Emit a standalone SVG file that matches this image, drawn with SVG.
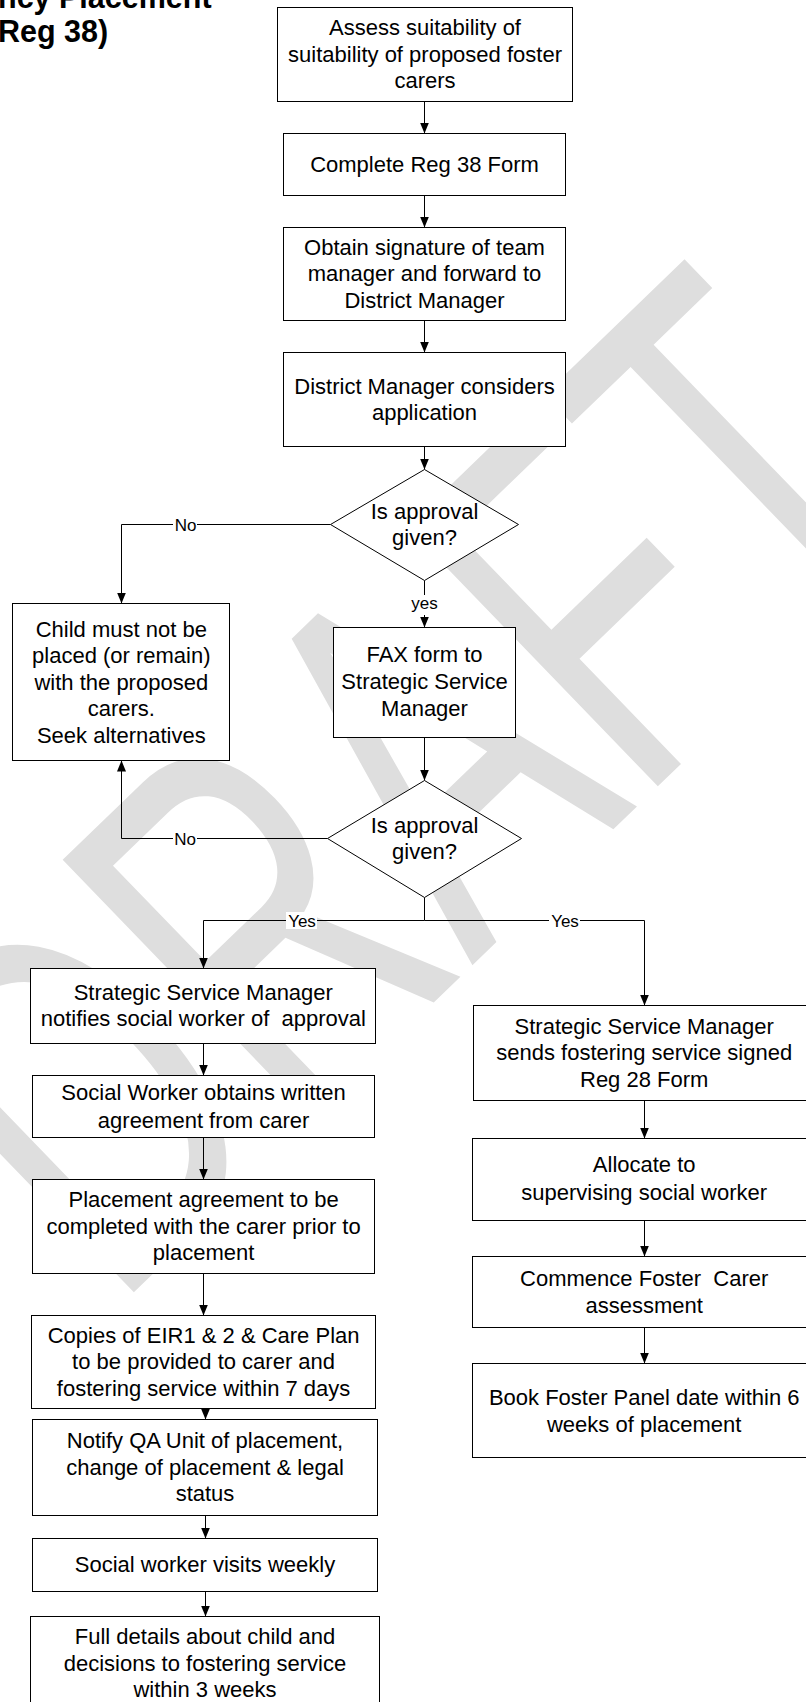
<svg xmlns="http://www.w3.org/2000/svg" width="806" height="1702" viewBox="0 0 806 1702">
<style>
.wm{fill:#dedede;font-family:"Liberation Sans",Arial,sans-serif;font-kerning:none}
.title{font-family:"Liberation Sans",Arial,sans-serif;font-weight:bold;font-size:30.5px;fill:#000}
.box{fill:#fff;stroke:#000;stroke-width:1}
.t{font-family:"Liberation Sans",Arial,sans-serif;font-size:22px;fill:#000;text-anchor:middle;white-space:pre}
.conn{fill:none;stroke:#000;stroke-width:1}
.arr{marker-end:url(#ah)}
.lbg{fill:#fff}
.lbl{font-family:"Liberation Sans",Arial,sans-serif;font-size:17px;fill:#000;text-anchor:middle}
</style>
<defs>
<marker id="ah" viewBox="0 0 11 9" refX="11" refY="4.5" markerWidth="11" markerHeight="9" markerUnits="userSpaceOnUse" orient="auto">
<path d="M0,0 L11,4.5 L0,9 z" fill="#000"/>
</marker>
</defs>
<g id="watermark">
<text class="wm" font-size="1000" transform="translate(113.5,1311.9) rotate(-44) scale(0.345,0.524)">DRAFT</text>
</g>
<g id="title">
<text class="title" x="-2" y="8">ncy Placement</text>
<text class="title" x="-2" y="42">Reg 38)</text>
</g>
<g id="connectors">
<path class="conn arr" d="M424.5,101.5 V133.5"/>
<path class="conn arr" d="M424.5,195.5 V227.5"/>
<path class="conn arr" d="M424.5,320.5 V352.5"/>
<path class="conn arr" d="M424.5,446.5 V469.5"/>
<path class="conn arr" d="M424.5,580.5 V627.5"/>
<path class="conn arr" d="M424.5,737.5 V780.5"/>
<path class="conn arr" d="M330.5,524.5 H121.5 V603.5"/>
<path class="conn arr" d="M327.5,838.5 H121.5 V760.5"/>
<path class="conn" d="M424.5,897.5 V920.5"/>
<path class="conn arr" d="M424.5,920.5 H203.5 V968.5"/>
<path class="conn arr" d="M424.5,920.5 H644.5 V1005.5"/>
<path class="conn arr" d="M203.5,1043.5 V1075.5"/>
<path class="conn arr" d="M203.5,1137.5 V1179.5"/>
<path class="conn arr" d="M203.5,1273.5 V1315.5"/>
<path class="conn arr" d="M205.5,1408.5 V1419.5"/>
<path class="conn arr" d="M205.5,1515.5 V1538.5"/>
<path class="conn arr" d="M205.5,1591.5 V1616.5"/>
<path class="conn arr" d="M644.5,1100.5 V1138.5"/>
<path class="conn arr" d="M644.5,1220.5 V1256.5"/>
<path class="conn arr" d="M644.5,1327.5 V1363.5"/>
<rect class="lbg" x="173" y="516" width="24" height="18"/>
<text class="lbl" x="185.5" y="530.5">No</text>
<rect class="lbg" x="411" y="595" width="27" height="20"/>
<text class="lbl" x="424.5" y="609">yes</text>
<rect class="lbg" x="173" y="831" width="24" height="18"/>
<text class="lbl" x="185" y="844.5">No</text>
<rect class="lbg" x="286" y="912" width="31" height="17"/>
<text class="lbl" x="302" y="927">Yes</text>
<rect class="lbg" x="549" y="912" width="31" height="17"/>
<text class="lbl" x="565" y="927">Yes</text>
</g>
<g id="n1"><rect class="box" x="277.5" y="7.5" width="295" height="94"/>
<text class="t" x="425" y="35.2">Assess suitability of</text>
<text class="t" x="425" y="61.6">suitability of proposed foster</text>
<text class="t" x="425" y="88">carers</text></g>
<g id="n2"><rect class="box" x="283.5" y="133.5" width="282" height="62"/>
<text class="t" x="424.5" y="172">Complete Reg 38 Form</text></g>
<g id="n3"><rect class="box" x="283.5" y="227.5" width="282" height="93"/>
<text class="t" x="424.5" y="254.5">Obtain signature of team</text>
<text class="t" x="424.5" y="281">manager and forward to</text>
<text class="t" x="424.5" y="307.5">District Manager</text></g>
<g id="n4"><rect class="box" x="283.5" y="352.5" width="282" height="94"/>
<text class="t" x="424.5" y="393.8">District Manager considers</text>
<text class="t" x="424.5" y="420.2">application</text></g>
<g id="d1"><polygon class="box" points="424.5,469.5 518.5,524.5 424.5,580.5 330.5,524.5"/>
<text class="t" x="424.5" y="518.9">Is approval</text>
<text class="t" x="424.5" y="545.3">given?</text></g>
<g id="n5"><rect class="box" x="12.5" y="603.5" width="217" height="157"/>
<text class="t" x="121.3" y="636.9">Child must not be</text>
<text class="t" x="121.3" y="663.3">placed (or remain)</text>
<text class="t" x="121.3" y="689.7">with the proposed</text>
<text class="t" x="121.3" y="716.1">carers.</text>
<text class="t" x="121.3" y="742.5">Seek alternatives</text></g>
<g id="n6"><rect class="box" x="333.5" y="627.5" width="182" height="110"/>
<text class="t" x="424.5" y="662">FAX form to</text>
<text class="t" x="424.5" y="689">Strategic Service</text>
<text class="t" x="424.5" y="715.5">Manager</text></g>
<g id="d2"><polygon class="box" points="424.5,780.5 521.5,838.5 424.5,897.5 327.5,838.5"/>
<text class="t" x="424.5" y="832.8">Is approval</text>
<text class="t" x="424.5" y="859.2">given?</text></g>
<g id="l1"><rect class="box" x="30.5" y="968.5" width="345" height="75"/>
<text class="t" x="203.3" y="1000">Strategic Service Manager</text>
<text class="t" x="203.3" y="1025.8">notifies social worker of  approval</text></g>
<g id="l2"><rect class="box" x="32.5" y="1075.5" width="342" height="62"/>
<text class="t" x="203.6" y="1100.3">Social Worker obtains written</text>
<text class="t" x="203.6" y="1127.5">agreement from carer</text></g>
<g id="l3"><rect class="box" x="32.5" y="1179.5" width="342" height="94"/>
<text class="t" x="203.6" y="1206.5">Placement agreement to be</text>
<text class="t" x="203.6" y="1234">completed with the carer prior to</text>
<text class="t" x="203.6" y="1260.2">placement</text></g>
<g id="l4"><rect class="box" x="31.5" y="1315.5" width="344" height="93"/>
<text class="t" x="203.6" y="1342.5">Copies of EIR1 &amp; 2 &amp; Care Plan</text>
<text class="t" x="203.6" y="1369.2">to be provided to carer and</text>
<text class="t" x="203.6" y="1395.9">fostering service within 7 days</text></g>
<g id="l5"><rect class="box" x="32.5" y="1419.5" width="345" height="96"/>
<text class="t" x="205" y="1448.4">Notify QA Unit of placement,</text>
<text class="t" x="205" y="1475.1">change of placement &amp; legal</text>
<text class="t" x="205" y="1501.3">status</text></g>
<g id="l6"><rect class="box" x="32.5" y="1538.5" width="345" height="53"/>
<text class="t" x="205" y="1572.3">Social worker visits weekly</text></g>
<g id="l7"><rect class="box" x="30.5" y="1616.5" width="349" height="100"/>
<text class="t" x="205" y="1643.8">Full details about child and</text>
<text class="t" x="205" y="1670.5">decisions to fostering service</text>
<text class="t" x="205" y="1696.7">within 3 weeks</text></g>
<g id="r1"><rect class="box" x="473.5" y="1005.5" width="341" height="95"/>
<text class="t" x="644.2" y="1033.5">Strategic Service Manager</text>
<text class="t" x="644.2" y="1060.2">sends fostering service signed</text>
<text class="t" x="644.2" y="1086.9">Reg 28 Form</text></g>
<g id="r2"><rect class="box" x="472.5" y="1138.5" width="343" height="82"/>
<text class="t" x="644.2" y="1172.3">Allocate to</text>
<text class="t" x="644.2" y="1199.5">supervising social worker</text></g>
<g id="r3"><rect class="box" x="472.5" y="1256.5" width="343" height="71"/>
<text class="t" x="644.2" y="1285.9">Commence Foster  Carer</text>
<text class="t" x="644.2" y="1312.6">assessment</text></g>
<g id="r4"><rect class="box" x="472.5" y="1363.5" width="343" height="94"/>
<text class="t" x="644.2" y="1404.7">Book Foster Panel date within 6</text>
<text class="t" x="644.2" y="1431.9">weeks of placement</text></g>
</svg>
